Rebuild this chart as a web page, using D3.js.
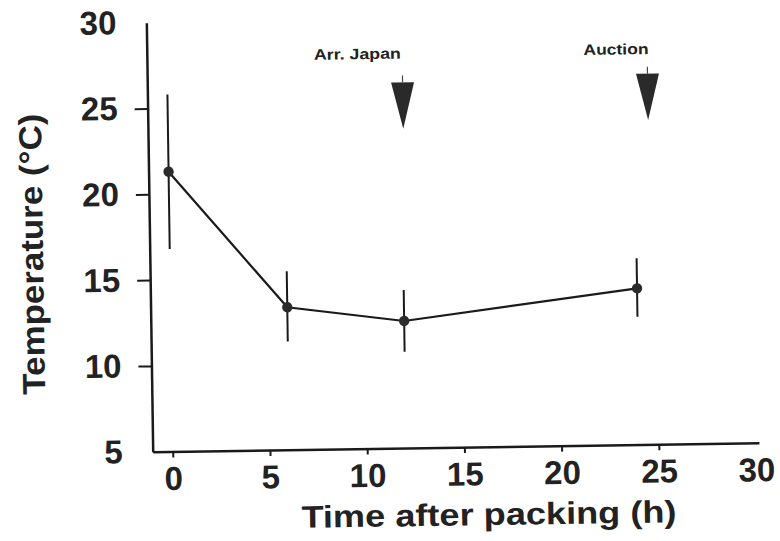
<!DOCTYPE html>
<html lang="en">
<head>
    <meta charset="UTF-8">
    <title>Temperature after packing</title>
    <style>
        body { margin: 0; background: #fff; }
        text { font-family: "Liberation Sans", Arial, Helvetica, sans-serif; font-weight: bold; fill: #222; }
    </style>
</head>
<body>
<script src="https://d3js.org/d3.v7.min.js" type="text/javascript"></script>
<script>
    // values
    var hours = [0, 6, 12, 24];
    var temp = [21.3, 13.3, 12.4, 14.1];
    var tempHigh = [25.8, 15.4, 14.2, 15.85];
    var tempLow = [16.8, 11.3, 10.6, 12.45];

    var events = ["Arr. Japan", "Auction"];
    var eventHour = [12.1, 24.7];
    var eventTop = [26.3, 26.6];
    var eventTip = [23.6, 23.9];
    var eventLabelHour = [9.8, 23.1];
    var eventLabelTemp = [28.0, 28.05];

    var xTicks = [0, 5, 10, 15, 20, 25, 30];
    var yTicks = [5, 10, 15, 20, 25, 30];

    const width = 780;
    const height = 541;

    var svg = d3.select("body")
        .append("svg")
        .attr("width", width)
        .attr("height", height);

    // the scan is turned a little, so the whole plot is too
    var g = svg.append("g")
        .attr("transform", "rotate(-0.85,152.7,451.7)");

    var x = d3.scaleLinear().domain([-1.03, 30.15]).range([152.7, 759]);
    var y = d3.scaleLinear().domain([5, 30]).range([451.7, 22.7]);

    // Bottom axis
    var xAxis = d3.axisBottom(x)
        .tickValues(xTicks)
        .tickSizeInner(6)
        .tickSizeOuter(0)
        .tickPadding(9)
        .tickFormat(d3.format("d"));
    var gx = g.append("g")
        .attr("transform", "translate(0," + y(5) + ")")
        .call(xAxis);
    gx.selectAll(".tick line").filter(function (d) { return d === 30; }).remove();

    // Left axis
    var yAxis = d3.axisLeft(y)
        .tickValues(yTicks)
        .tickSizeInner(13)
        .tickSizeOuter(0)
        .tickPadding(17)
        .tickFormat(d3.format("d"));
    var gy = g.append("g")
        .attr("transform", "translate(" + x.range()[0] + ",0)")
        .call(yAxis);
    gy.selectAll(".tick line").filter(function (d) { return d === 5 || d === 30; }).remove();

    g.selectAll(".domain").attr("stroke", "#1a1a1a").attr("stroke-width", 2.5);
    g.selectAll(".tick line").attr("stroke", "#1a1a1a").attr("stroke-width", 2);
    g.selectAll(".tick text")
        .attr("fill", "#222")
        .style("font-size", "33px")
        .style("font-family", "'Liberation Sans', Arial, sans-serif")
        .style("font-weight", "bold");

    // error bars
    g.selectAll(".err")
        .data(hours)
        .enter()
        .append("line")
        .attr("class", "err")
        .attr("x1", function (d) { return x(d); })
        .attr("x2", function (d) { return x(d); })
        .attr("y1", function (d, i) { return y(tempHigh[i]); })
        .attr("y2", function (d, i) { return y(tempLow[i]); })
        .attr("stroke", "#1a1a1a")
        .attr("stroke-width", 2);

    // mean line
    var line = d3.line()
        .x(function (d, i) { return x(hours[i]); })
        .y(function (d) { return y(d); });
    g.append("path")
        .datum(temp)
        .attr("d", line)
        .attr("fill", "none")
        .attr("stroke", "#1a1a1a")
        .attr("stroke-width", 2.2);

    g.selectAll(".pt")
        .data(temp)
        .enter()
        .append("circle")
        .attr("class", "pt")
        .attr("cx", function (d, i) { return x(hours[i]); })
        .attr("cy", function (d) { return y(d); })
        .attr("r", 5.2)
        .attr("fill", "#2b2b2b");

    // event arrows
    g.selectAll(".arrow")
        .data(events)
        .enter()
        .append("path")
        .attr("class", "arrow")
        .attr("d", function (d, i) {
            var cx = x(eventHour[i]);
            return "M" + (cx - 11.5) + "," + y(eventTop[i]) +
                "L" + (cx + 11.5) + "," + y(eventTop[i]) +
                "L" + cx + "," + y(eventTip[i]) + "Z";
        })
        .attr("fill", "#2a2a2a");

    g.selectAll(".stub")
        .data(events)
        .enter()
        .append("line")
        .attr("class", "stub")
        .attr("x1", function (d, i) { return x(eventHour[i]); })
        .attr("x2", function (d, i) { return x(eventHour[i]); })
        .attr("y1", function (d, i) { return y(eventTop[i]) - 7; })
        .attr("y2", function (d, i) { return y(eventTop[i]); })
        .attr("stroke", "#444")
        .attr("stroke-width", 1.2);

    var labelWidths = [87, 65];
    g.selectAll(".evlabel")
        .data(events)
        .enter()
        .append("text")
        .attr("class", "evlabel")
        .attr("x", function (d, i) { return x(eventLabelHour[i]) - labelWidths[i] / 2; })
        .attr("y", function (d, i) { return y(eventLabelTemp[i]); })
        .attr("dy", "0.35em")
        .attr("textLength", function (d, i) { return labelWidths[i]; })
        .attr("lengthAdjust", "spacingAndGlyphs")
        .style("font-size", "15px")
        .text(function (d) { return d; });

    // axis titles
    g.append("text")
        .attr("x", 488 - 187.5)
        .attr("y", 530)
        .attr("textLength", 375)
        .attr("lengthAdjust", "spacingAndGlyphs")
        .style("font-size", "31px")
        .text("Time after packing (h)");

    g.append("text")
        .attr("transform", "translate(46,252.4) rotate(-90)")
        .attr("x", -140.5)
        .attr("textLength", 281)
        .attr("lengthAdjust", "spacingAndGlyphs")
        .style("font-size", "32px")
        .text("Temperature (°C)");
</script>
</body>
</html>
